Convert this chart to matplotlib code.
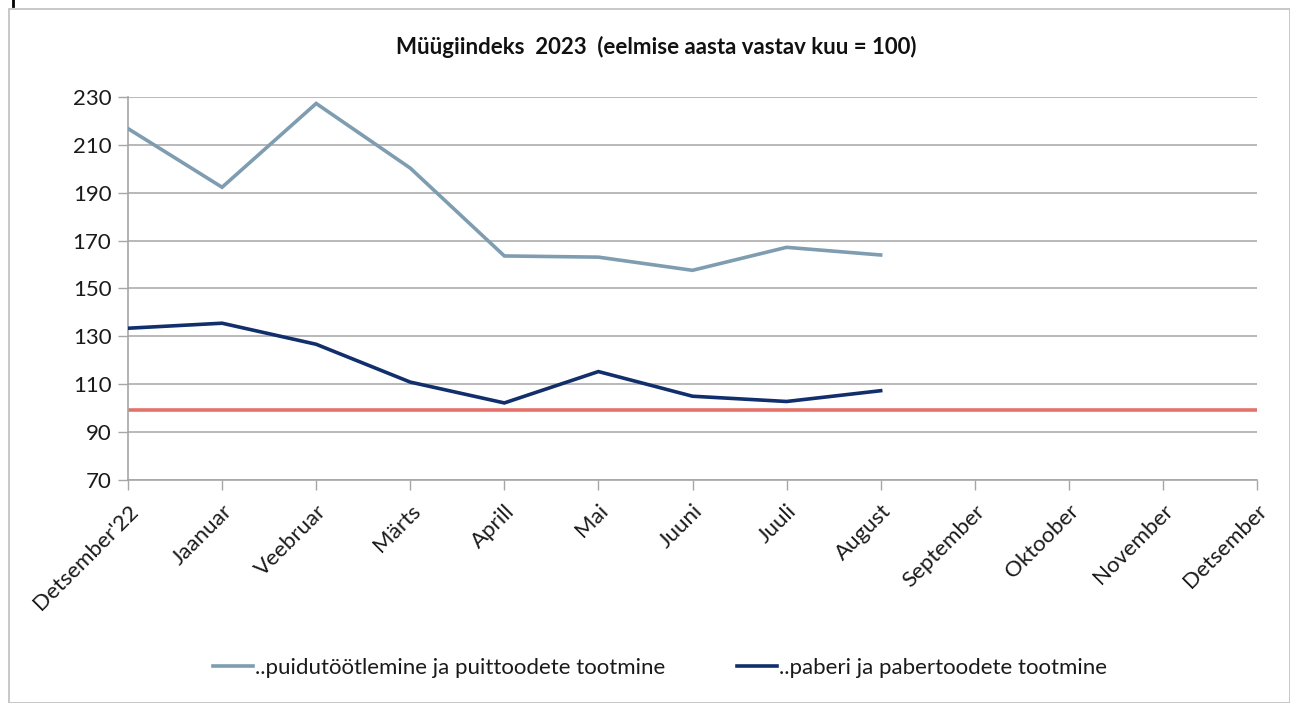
import matplotlib
matplotlib.use("Agg")
import matplotlib.pyplot as plt
from matplotlib.patches import Rectangle
from matplotlib.lines import Line2D

months = ["Detsember'22", "Jaanuar", "Veebruar", "Märts", "Aprill", "Mai", "Juuni",
          "Juuli", "August", "September", "Oktoober", "November", "Detsember"]
puit = [216.8, 192.3, 227.3, 200.3, 163.6, 163.1, 157.6, 167.2, 164.0]
paber = [133.4, 135.5, 126.7, 110.9, 102.2, 115.3, 105.0, 102.8, 107.3]
baseline = 99.2
yticks = [70, 90, 110, 130, 150, 170, 190, 210, 230]
title = "Müügiindeks  2023  (eelmise aasta vastav kuu = 100)"
labels = ["..puidutöötlemine ja puittoodete tootmine", "..paberi ja pabertoodete tootmine"]

plt.rcParams['font.family'] = ['Lato', 'DejaVu Sans']

W, H = 1290, 703
fig = plt.figure(figsize=(W / 100, H / 100), dpi=100)
ax = fig.add_axes([128 / W, 1 - 480 / H, (1257 - 128) / W, (480 - 97) / H])

c_light = "#7f9db0"
c_dark = "#112f6c"
c_red = "#e3736a"
grid_c = "#a6a6a6"
fs = 16

x = list(range(len(months)))
ax.plot(x[:len(puit)], puit, color=c_light, lw=2.6, solid_joinstyle='miter', zorder=3)
ax.plot(x[:len(paber)], paber, color=c_dark, lw=2.6, solid_joinstyle='miter', zorder=3)
ax.plot([x[0], x[-1]], [baseline, baseline], color=c_red, lw=2.6, zorder=2)

ax.set_xlim(0, len(months) - 1)
ax.set_ylim(70, 230)
ax.set_yticks(yticks)
ax.set_yticklabels([str(v) for v in yticks], fontsize=fs, color="#1a1a1a")
ax.set_xticks(x)
ax.set_xticklabels(months, rotation=45, ha='right', va='top', rotation_mode='anchor',
                   fontsize=fs, color="#1a1a1a")
ax.tick_params(axis='x', length=7, width=1, color=grid_c, pad=8)
ax.tick_params(axis='y', length=7, width=1, color=grid_c, pad=5)
for s in ['top', 'right']:
    ax.spines[s].set_visible(False)
for s in ['left', 'bottom']:
    ax.spines[s].set_color(grid_c)
    ax.spines[s].set_linewidth(1.2)
ax.yaxis.grid(True, color=grid_c, lw=1.1)
ax.set_axisbelow(True)

fig.text(656 / W, 1 - 47 / H, title, ha='center', va='center', fontsize=fs,
         fontweight='bold', color="#111111")

handles = [Line2D([], [], color=c_light, lw=2.6), Line2D([], [], color=c_dark, lw=2.6)]
leg = fig.legend(handles, labels, loc='center', bbox_to_anchor=(660 / W, 1 - 668 / H),
                 ncol=2, frameon=False, fontsize=fs, handlelength=1.8, handletextpad=0.1,
                 columnspacing=3.2)
for t in leg.get_texts():
    t.set_color("#1a1a1a")

fig.patches.append(Rectangle((9 / W, 0), (W - 9) / W, 1 - 9 / H, transform=fig.transFigure,
                             fill=False, edgecolor="#bfbfbf", lw=1.2))
fig.lines.append(Line2D([13 / W, 13 / W], [1, 1 - 6 / H], transform=fig.transFigure,
                        color="black", lw=2))

fig.savefig("out.png", dpi=100)
